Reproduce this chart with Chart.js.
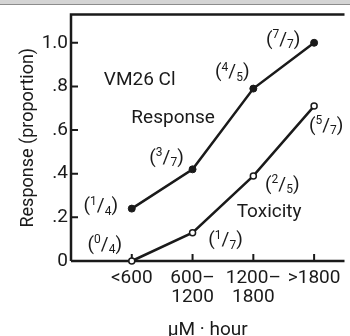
<!DOCTYPE html>
<html lang="en">
<head>
  <meta charset="UTF-8">
  <title>VM26 Cl response and toxicity</title>
  <script src="https://cdn.jsdelivr.net/npm/chart.js"></script>
  <style>
    html, body {
      margin: 0;
      padding: 0;
      background: #fff;
    }
    canvas {
      display: block;
    }
  </style>
</head>
<body>
  <canvas id="chart" width="350" height="336"></canvas>

  <script>
    // data
    const doseGroups = [['<600'], ['600–', '1200'], ['1200–', '1800'], ['>1800']];
    const responseValues = [0.24, 0.42, 0.79, 1.0];
    const toxicityValues = [0, 0.13, 0.39, 0.71];
    const responseCounts = [['1', '4'], ['3', '7'], ['4', '5'], ['7', '7']];
    const toxicityCounts = [['0', '4'], ['1', '7'], ['2', '5'], ['5', '7']];
    const yTicks = [0, 0.2, 0.4, 0.6, 0.8, 1.0];
    const yTickLabels = ['0', '.2', '.4', '.6', '.8', '1.0'];

    const FONT = 'Roboto';
    const INK = '#1a1a1a';

    // pixel offsets of the (n/N) labels from their points
    const responseLabelOffsets = [[-31, -2], [-26, -11], [-21, -16], [-31, -3]];
    const toxicityLabelOffsets = [[-27, -16], [33, 8], [29, 9], [12, 20]];

    function drawFraction(ctx, cx, cy, num, den) {
      const big = '19px ' + FONT;
      const small = '12px ' + FONT;
      const parts = [
        ['(', big, 0], [num, small, -5], ['/', big, 0], [den, small, 5], [')', big, 0]
      ];
      let total = 0;
      parts.forEach(p => { ctx.font = p[1]; p.push(ctx.measureText(p[0]).width); total += p[3]; });
      let xx = cx - total / 2;
      ctx.textAlign = 'left';
      ctx.textBaseline = 'middle';
      parts.forEach(p => {
        ctx.font = p[1];
        ctx.fillText(p[0], xx, cy + p[2]);
        xx += p[3];
      });
    }

    const frame = {
      id: 'frame',
      beforeDraw(chart) {
        const ctx = chart.ctx;
        ctx.save();
        ctx.fillStyle = '#d4d4d4';
        ctx.fillRect(0, 0, chart.width, 4);
        ctx.fillStyle = '#8c8c8c';
        ctx.fillRect(0, 4, chart.width, 1);
        ctx.restore();
      },
      beforeDatasetsDraw(chart) {
        const { ctx, chartArea: a, scales: { x, y } } = chart;
        ctx.save();
        ctx.strokeStyle = INK;
        ctx.lineWidth = 2.5;
        ctx.beginPath();
        ctx.moveTo(a.left, a.bottom);
        ctx.lineTo(a.left, a.top);
        ctx.lineTo(a.right, a.top);
        ctx.moveTo(a.left, a.bottom);
        ctx.lineTo(a.right, a.bottom);
        ctx.stroke();

        ctx.lineWidth = 2;
        ctx.beginPath();
        yTicks.forEach(v => {
          const py = y.getPixelForValue(v);
          ctx.moveTo(a.left, py);
          ctx.lineTo(a.left + 7, py);
        });
        doseGroups.forEach((g, i) => {
          const px = x.getPixelForValue(i + 1);
          ctx.moveTo(px, a.bottom);
          ctx.lineTo(px, a.bottom - 7);
        });
        ctx.stroke();
        ctx.restore();
      },
      afterDatasetsDraw(chart) {
        const { ctx, scales: { x, y } } = chart;
        ctx.save();
        ctx.fillStyle = INK;

        responseValues.forEach((v, i) => {
          const o = responseLabelOffsets[i];
          drawFraction(ctx, x.getPixelForValue(i + 1) + o[0], y.getPixelForValue(v) + o[1],
            responseCounts[i][0], responseCounts[i][1]);
        });
        toxicityValues.forEach((v, i) => {
          const o = toxicityLabelOffsets[i];
          drawFraction(ctx, x.getPixelForValue(i + 1) + o[0], y.getPixelForValue(v) + o[1],
            toxicityCounts[i][0], toxicityCounts[i][1]);
        });

        // free text in data coordinates
        ctx.font = '19px ' + FONT;
        ctx.textAlign = 'center';
        ctx.textBaseline = 'middle';
        ctx.fillText('VM26 Cl', x.getPixelForValue(1.13), y.getPixelForValue(0.83));
        ctx.fillText('Response', x.getPixelForValue(1.68), y.getPixelForValue(0.655));
        ctx.fillText('Toxicity', x.getPixelForValue(3.26), y.getPixelForValue(0.224));
        ctx.restore();
      }
    };

    const ctx = document.getElementById('chart').getContext('2d');
    new Chart(ctx, {
      type: 'line',
      data: {
        datasets: [
          {
            label: 'Response',
            data: responseValues.map((v, i) => ({ x: i + 1, y: v })),
            borderColor: INK,
            borderWidth: 2.5,
            pointRadius: 3.5,
            pointBackgroundColor: INK,
            pointBorderColor: INK,
            pointBorderWidth: 1,
            tension: 0,
            clip: false
          },
          {
            label: 'Toxicity',
            data: toxicityValues.map((v, i) => ({ x: i + 1, y: v })),
            borderColor: INK,
            borderWidth: 2.5,
            pointRadius: 3,
            pointBackgroundColor: '#fff',
            pointBorderColor: INK,
            pointBorderWidth: 1.5,
            tension: 0,
            clip: false
          }
        ]
      },
      options: {
        responsive: false,
        animation: false,
        events: [],
        layout: { padding: { top: 14, right: 0, left: 0, bottom: 0 } },
        plugins: {
          legend: { display: false },
          tooltip: { enabled: false }
        },
        scales: {
          x: {
            type: 'linear',
            min: 0,
            max: 4.5,
            grid: { display: false, drawTicks: false },
            border: { display: false },
            afterBuildTicks: s => { s.ticks = doseGroups.map((g, i) => ({ value: i + 1 })); },
            afterFit: s => { s.height = 75; },
            ticks: {
              color: INK,
              padding: 8,
              maxRotation: 0,
              autoSkip: false,
              font: { family: FONT, size: 19, lineHeight: 1.0 },
              callback: (v, i) => doseGroups[i]
            },
            title: {
              display: true,
              text: 'µM · hour',
              color: INK,
              font: { family: FONT, size: 19, lineHeight: 1.0 },
              padding: { top: 0, bottom: -4 }
            }
          },
          y: {
            min: 0,
            max: 1.13,
            grid: { display: false, drawTicks: false },
            border: { display: false },
            afterBuildTicks: s => { s.ticks = yTicks.map(v => ({ value: v })); },
            afterFit: s => { s.width = 71; },
            ticks: {
              color: INK,
              padding: 3,
              font: { family: FONT, size: 19 },
              callback: (v, i) => yTickLabels[i]
            },
            title: {
              display: true,
              text: 'Response (proportion)',
              color: INK,
              font: { family: FONT, size: 18, lineHeight: 1.0 },
              padding: { top: 19, bottom: 0 }
            }
          }
        }
      },
      plugins: [frame]
    });
  </script>
</body>
</html>
